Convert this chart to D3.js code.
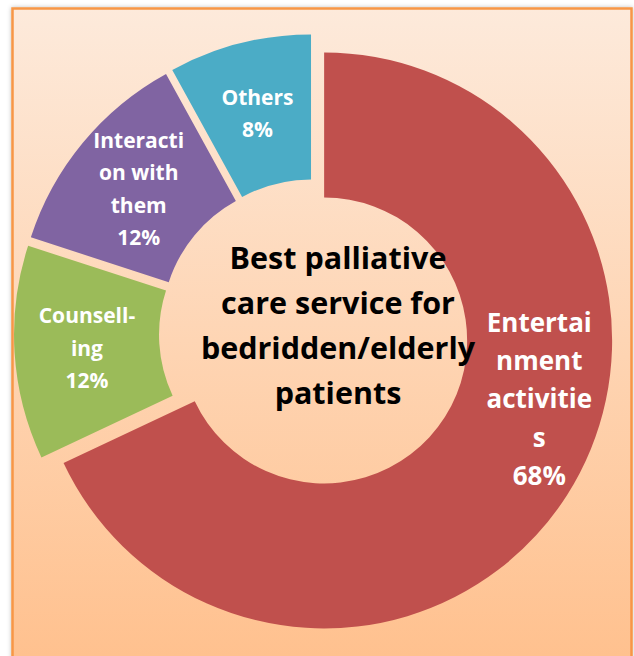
<!DOCTYPE html>
<html>
<head>
<meta charset="utf-8">
<script src="https://cdn.jsdelivr.net/npm/d3@7"></script>
<style>
  html, body { margin: 0; padding: 0; background: #ffffff; }
  svg { display: block; }
  text { font-family: "Open Sans", Lato, sans-serif; font-weight: bold; }
</style>
</head>
<body>
<svg id="chart"></svg>
<script>
// data
var categories = ["Entertainment activities", "Counselling", "Interaction with them", "Others"];
var values = [68, 12, 12, 8];
var labelLines = [
  ["Entertai", "nment", "activitie", "s", "68%"],
  ["Counsell-", "ing", "12%"],
  ["Interacti", "on with", "them", "12%"],
  ["Others", "8%"]
];
var titleLines = ["Best palliative", "care service for", "bedridden/elderly", "patients"];
var colors = ["#c0504d", "#9bbb59", "#8064a2", "#4bacc6"];

var width = 634, height = 656,
cx = 314, cy = 334,
outerR = 288, innerR = 143,
explode = 12;

var svg = d3.select("#chart")
.attr("width", width)
.attr("height", height);

var defs = svg.append("defs");
var grad = defs.append("linearGradient")
.attr("id", "bg")
.attr("x1", 0).attr("y1", 0).attr("x2", 0).attr("y2", 1);
grad.append("stop").attr("offset", "0%").attr("stop-color", "#fdeadb");
grad.append("stop").attr("offset", "100%").attr("stop-color", "#ffbf8b");

var shadow = defs.append("filter")
.attr("id", "shadow")
.attr("x", "-5%").attr("y", "-5%").attr("width", "110%").attr("height", "110%");
shadow.append("feDropShadow")
.attr("dx", 0).attr("dy", 0).attr("stdDeviation", 2)
.attr("flood-color", "#000").attr("flood-opacity", 0.25);

// frame
svg.append("rect")
.attr("x", 12.5)
.attr("y", 8.5)
.attr("width", 619)
.attr("height", 680)
.attr("fill", "url(#bg)")
.attr("stroke", "#f79646")
.attr("stroke-width", 2.5)
.attr("filter", "url(#shadow)");

var pie = d3.pie().sort(null).value(function (d) { return d; });
var arcs = pie(values);

var arc = d3.arc()
.innerRadius(innerR)
.outerRadius(outerR);

var g = svg.append("g")
.attr("transform", "translate(" + cx + "," + cy + ")");

function offsetOf(d) {
  var a = (d.startAngle + d.endAngle) / 2;
  return [Math.sin(a) * explode, -Math.cos(a) * explode];
}

var slice = g.selectAll("g.slice")
.data(arcs)
.enter().append("g")
.attr("class", "slice")
.attr("transform", function (d) { return "translate(" + offsetOf(d) + ")"; });

slice.append("path")
.attr("d", arc)
.attr("fill", function (d, i) { return colors[i]; });

// labels: middle of the ring, the big slice label sits a bit higher
var labelR = (innerR + outerR) / 2;
slice.each(function (d, i) {
  var t = (i === 0) ? 0.43 : 0.5;
  var a = d.startAngle + (d.endAngle - d.startAngle) * t;
  var r = (i === 0) ? 223 : labelR;
  var lx = Math.sin(a) * r, ly = -Math.cos(a) * r;
  var lines = labelLines[i];
  var fs = (i === 0) ? 26 : 21;
  var lh = (i === 0) ? 38.5 : 32.5;
  var txt = d3.select(this).append("text")
  .attr("text-anchor", "middle")
  .attr("fill", "#ffffff")
  .attr("font-size", fs + "px");
  lines.forEach(function (s, k) {
    txt.append("tspan")
    .attr("x", lx)
    .attr("y", ly + (k - (lines.length - 1) / 2) * lh + fs * 0.36)
    .text(s);
  });
});

// centre title
var title = svg.append("text")
.attr("text-anchor", "middle")
.attr("fill", "#000000")
.attr("font-size", "30.5px");
titleLines.forEach(function (s, k) {
  title.append("tspan")
  .attr("x", 338)
  .attr("y", 269 + k * 45)
  .text(s);
});
</script>
</body>
</html>
